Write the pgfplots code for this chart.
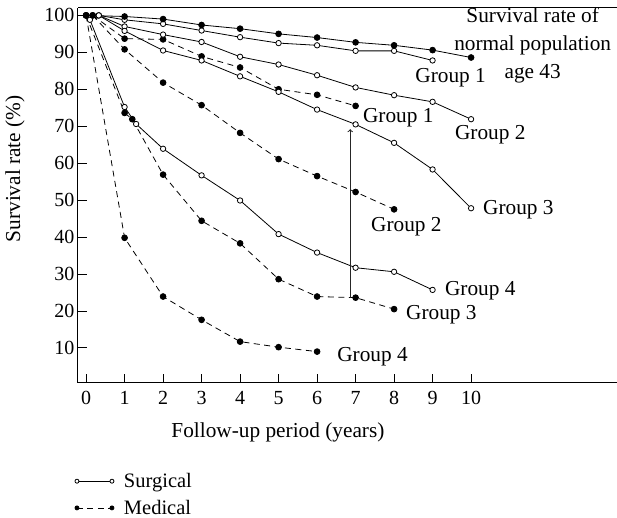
\documentclass[border=0pt]{standalone}
\usepackage{fontspec}
\setmainfont{Liberation Serif}
\usepackage{pgfplots}
\pgfplotsset{compat=1.18}
\begin{document}
\begin{tikzpicture}
\begin{axis}[
  scale only axis, width=539pt, height=375pt,
  xmin=-0.21, xmax=13.79, ymin=0.5, ymax=102,
  axis x line*=box, axis y line*=left,
  axis line style={line width=1pt},
  xtick={0,...,10}, ytick={10,20,...,100},
  xtick pos=bottom,
  tick align=inside, major tick length=9pt,
  tick style={line width=0.9pt, black},
  /pgf/number format/assume math mode=true,
  tick label style={font=\fontsize{20}{20}\selectfont},
  xticklabel style={yshift=-5pt},
  label style={font=\fontsize{21.3}{25}\selectfont},
  xlabel={Follow-up period (years)},
  ylabel={Survival rate (\%)},
  xlabel style={at={(axis description cs:0.371,-0.133)}, anchor=center},
  ylabel style={at={(axis description cs:-0.117,0.571)}, anchor=center},
  clip=false,
  legend style={at={(axis description cs:-0.006,-0.235)}, anchor=north west,
    draw=none, fill=none, font=\fontsize{20.5}{22}\selectfont, row sep=7pt,
    column sep=8pt, inner sep=0pt},
  legend cell align=left,
  legend image code/.code={\draw[mark indices={1,3},#1,mark size=2pt] plot coordinates {(0pt,0pt) (17.5pt,0pt) (35pt,0pt)};},
  surg/.style={black, line width=0.8pt, solid, mark=*, mark size=2.7pt, mark options={solid, fill=white, line width=0.8pt}},
  med/.style={black, line width=0.8pt, dash pattern=on 6pt off 4.5pt, mark=*, mark size=2.9pt, mark options={solid, fill=black}},
]
% Surgical Group 1
\addplot[surg] coordinates {(0.33,100) (1,98.8) (2,97.7) (3,95.9) (4,94.1) (5,92.5) (6,91.9) (7,90.4) (8,90.4) (9,87.8)};
\addlegendentry{Surgical}
% Medical Group 1
\addplot[med] coordinates {(0.17,100) (1,93.7) (2,93.5) (3,88.9) (4,85.9) (5,80.0) (6,78.5) (7,75.5)};
\addlegendentry{Medical}
% Normal population
\addplot[black, line width=0.8pt, mark=*, mark size=2.9pt, forget plot] coordinates {(0,100) (1,99.7) (2,99.0) (3,97.4) (4,96.4) (5,95.0) (6,94.0) (7,92.7) (8,91.9) (9,90.6) (10,88.6)};
% Surgical Group 2
\addplot[surg, forget plot] coordinates {(0.33,100) (1,97.0) (2,94.8) (3,92.8) (4,88.8) (5,86.7) (6,83.8) (7,80.5) (8,78.4) (9,76.6) (10,71.9)};
% Surgical Group 3
\addplot[surg, forget plot] coordinates {(0.33,100) (1,95.8) (2,90.5) (3,87.8) (4,83.5) (5,79.3) (6,74.5) (7,70.5) (8,65.5) (9,58.3) (10,47.8)};
% Surgical Group 4
\addplot[surg, forget plot] coordinates {(0.1,98.8) (1,75.2) (1.3,70.6) (2,63.9) (3,56.7) (4,49.9) (5,40.8) (6,35.8) (7,31.7) (8,30.6) (9,25.7)};
% Medical Group 2
\addplot[med, forget plot] coordinates {(0.17,100) (1,90.8) (2,81.8) (3,75.7) (4,68.2) (5,61.1) (6,56.5) (7,52.2) (8,47.5)};
% Medical Group 3
\addplot[med, forget plot] coordinates {(0,100) (1,73.6) (1.2,71.9) (2,56.9) (3,44.4) (4,38.3) (5,28.6) (6,23.9) (7,23.6) (8,20.5)};
% Medical Group 4
\addplot[med, forget plot] coordinates {(0,100) (1,39.8) (2,23.9) (3,17.6) (4,11.7) (5,10.2) (6,9.0)};
% arrow
\draw[->, line width=1pt, black!85] (axis cs:6.86,23.6) -- (axis cs:6.86,69.2);
% labels
\begin{scope}[font=\fontsize{21.3}{25}\selectfont]
\node[align=center, inner sep=0pt, font=\fontsize{21.3}{28}\selectfont] at (axis cs:11.6,91.9) {Survival rate of\\normal population\\age 43};
\node[anchor=west, inner sep=0pt] at (axis cs:8.55,83.2) {Group 1};
\node[anchor=west, inner sep=0pt] at (axis cs:7.19,72.2) {Group 1};
\node[anchor=west, inner sep=0pt] at (axis cs:9.58,67.6) {Group 2};
\node[anchor=west, inner sep=0pt] at (axis cs:10.31,47.3) {Group 3};
\node[anchor=west, inner sep=0pt] at (axis cs:7.40,42.7) {Group 2};
\node[anchor=west, inner sep=0pt] at (axis cs:9.32,25.4) {Group 4};
\node[anchor=west, inner sep=0pt] at (axis cs:8.31,18.9) {Group 3};
\node[anchor=west, inner sep=0pt] at (axis cs:6.52,7.6) {Group 4};
\end{scope}
\end{axis}
\pgfresetboundingbox
\path (-78pt,-135pt) rectangle (539pt,383pt);
\end{tikzpicture}
\end{document}
